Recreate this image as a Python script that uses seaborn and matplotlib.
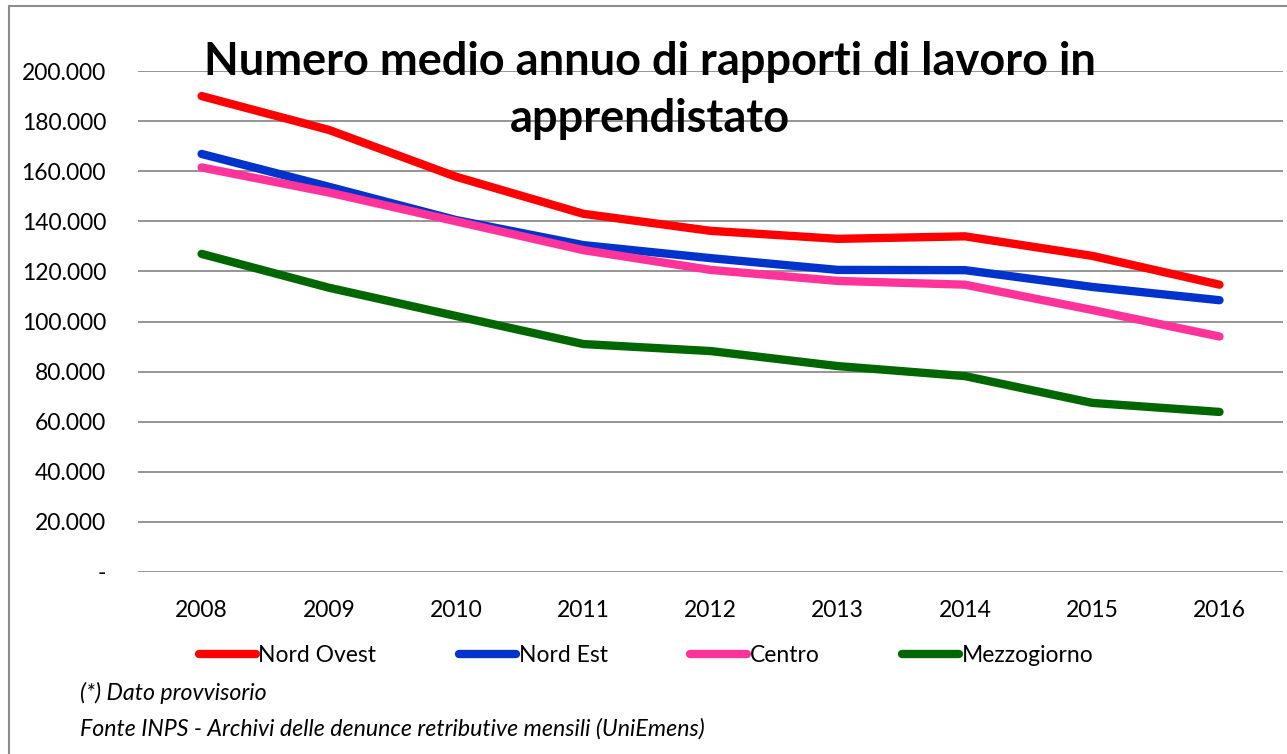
import matplotlib
matplotlib.use('Agg')
import matplotlib.pyplot as plt
import seaborn as sns
import pandas as pd
from matplotlib.patches import Rectangle

# Dati
anni = ['2008', '2009', '2010', '2011', '2012', '2013', '2014', '2015', '2016']
nord_ovest = [190000, 176500, 157800, 143000, 136200, 133000, 134000, 126200, 114700]
nord_est = [166900, 153800, 140500, 130500, 125300, 120600, 120500, 113800, 108500]
centro = [161500, 151500, 140000, 128500, 120600, 116200, 114700, 104600, 94000]
mezzogiorno = [127000, 113500, 102200, 91000, 88200, 82200, 78200, 67500, 63900]
aree = ['Nord Ovest', 'Nord Est', 'Centro', 'Mezzogiorno']
colori = ['#FF0000', '#0033CC', '#FF3399', '#006600']
yticks = [0, 20000, 40000, 60000, 80000, 100000, 120000, 140000, 160000, 180000, 200000]


def fmt(v):
    return '-' if v == 0 else f'{v:,.0f}'.replace(',', '.')


def main():
    sns.set_style('white')
    plt.rcParams['font.family'] = ['Lato', 'DejaVu Sans']
    plt.rcParams['text.color'] = 'black'
    plt.rcParams['xtick.color'] = 'black'
    plt.rcParams['ytick.color'] = 'black'

    df = pd.DataFrame({'anno': anni * 4,
                       'valore': nord_ovest + nord_est + centro + mezzogiorno,
                       'area': [a for a in aree for _ in anni]})
    df['x'] = df['anno'].map({a: i for i, a in enumerate(anni)})

    fig = plt.figure(figsize=(12.87, 7.54), dpi=100)
    ax = fig.add_axes([0.1072, 0.2414, 0.8898, 0.6644])

    sns.lineplot(data=df, x='x', y='valore', hue='area', hue_order=aree,
                 palette=colori, linewidth=6, solid_capstyle='round', ax=ax,
                 legend=False)

    ax.set_xlim(-0.5, len(anni) - 0.5)
    ax.set_ylim(0, 200000)
    ax.set_yticks(yticks)
    ax.set_yticklabels([fmt(v) for v in yticks], fontsize=16.5)
    ax.set_xticks(range(len(anni)))
    ax.set_xticklabels(anni, fontsize=16.5)
    ax.tick_params(axis='y', length=0, pad=23)
    ax.tick_params(axis='x', length=0, pad=20)
    ax.set_xlabel('')
    ax.set_ylabel('')
    ax.grid(axis='y', color='#8C8C8C', linewidth=1.3)
    ax.set_axisbelow(True)
    for s in ax.spines.values():
        s.set_visible(False)

    # Legenda
    handles = [plt.Line2D([], [], color=c, linewidth=6, solid_capstyle='round') for c in colori]
    fig.legend(handles, aree, loc='center', bbox_to_anchor=(0.502, 0.131), ncol=4,
               frameon=False, fontsize=16.5, handlelength=2.5, handletextpad=0.1,
               columnspacing=3.6)

    fig.text(0.505, 0.88, 'Numero medio annuo di rapporti di lavoro in\napprendistato',
             ha='center', va='center', fontsize=32.5, fontweight='bold',
             linespacing=1.42)
    fig.text(0.062, 0.081, '(*) Dato provvisorio', fontsize=16.7, style='italic', va='center')
    fig.text(0.062, 0.033, 'Fonte INPS - Archivi delle denunce retributive mensili (UniEmens)',
             fontsize=16.7, style='italic', va='center')

    # Cornice esterna
    fig.patches.append(Rectangle((0.007, -0.05), 1.05, 1.042, transform=fig.transFigure,
                                 fill=False, edgecolor='#8C8C8C', linewidth=1.5))

    fig.savefig('out.png', dpi=100)


if __name__ == '__main__':
    main()
